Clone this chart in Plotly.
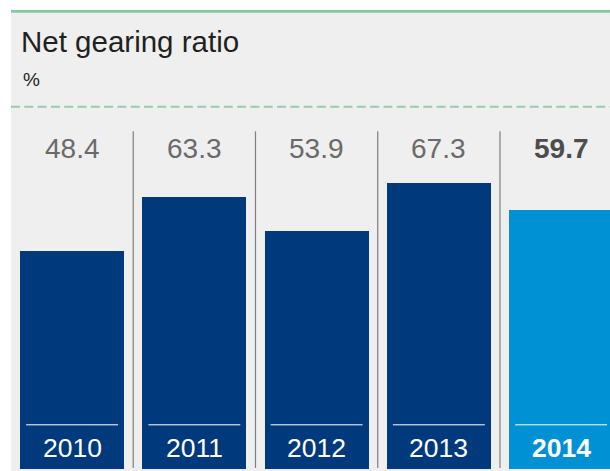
import plotly.graph_objects as go

# Net gearing ratio, %
years = ["2010", "2011", "2012", "2013", "2014"]
ratios = [48.4, 63.3, 53.9, 67.3, 59.7]
highlight = "2014"

DARK_BLUE = "#003a7c"
LIGHT_BLUE = "#0090d4"
PANEL = "#efefef"
GREEN = "#86c9a0"
FONT = "Liberation Sans"

LABEL_BAND = 12.3          # depth of the year label band below zero
Y_RANGE = [-12.28, 114.73]
X_RANGE = [-0.5, 4.4]

xs = list(range(len(years)))
colors = [LIGHT_BLUE if y == highlight else DARK_BLUE for y in years]

fig = go.Figure()

# main bars, from zero up to the ratio
fig.add_trace(go.Bar(
    x=xs, y=ratios, base=0, width=0.85,
    marker=dict(color=colors, line=dict(width=0)),
    hoverinfo="skip", showlegend=False,
))
# year label band under each bar
fig.add_trace(go.Bar(
    x=xs, y=[LABEL_BAND] * len(xs), base=-LABEL_BAND, width=0.85,
    marker=dict(color=colors, line=dict(width=0)),
    hoverinfo="skip", showlegend=False,
))

shapes = []
annotations = []

# bottom strip of the panel below the plot area
shapes.append(dict(type="rect", xref="paper", yref="paper",
                   x0=0, x1=1, y0=-0.01, y1=0, fillcolor=PANEL,
                   line=dict(width=0), layer="below"))
# solid green rule across the top
shapes.append(dict(type="line", xref="paper", yref="paper",
                   x0=0, x1=1, y0=1.0015, y1=1.0015,
                   line=dict(color=GREEN, width=2.7)))
# dashed green rule under the heading
shapes.append(dict(type="line", xref="paper", yref="paper",
                   x0=0, x1=1, y0=0.7928, y1=0.7928,
                   line=dict(color="#93d0aa", width=2, dash="9px,4.3px")))

# vertical separators between the years
for i in range(len(years) - 1):
    shapes.append(dict(type="line", xref="x", yref="y",
                       x0=i + 0.5, x1=i + 0.5, y0=-12.0, y1=81.6,
                       line=dict(color="#7f7f7f", width=1.2)))

# white zero line on each bar, above the year label
for i in xs:
    shapes.append(dict(type="line", xref="x", yref="y",
                       x0=i - 0.376, x1=i + 0.376, y0=0, y1=0,
                       line=dict(color="white", width=1)))

for i, (yr, v) in enumerate(zip(years, ratios)):
    bold = yr == highlight
    annotations.append(dict(
        x=i, y=76.7, xref="x", yref="y", showarrow=False,
        text=f"<b>{v:.1f}</b>" if bold else f"{v:.1f}",
        font=dict(family=FONT, size=28, color="#4d4d4d" if bold else "#6a6a6a"),
        xanchor="center", yanchor="middle",
    ))
    annotations.append(dict(
        x=i, y=-6.5, xref="x", yref="y", showarrow=False,
        text=f"<b>{yr}</b>" if bold else yr,
        font=dict(family=FONT, size=26.5, color="white"),
        xanchor="center", yanchor="middle",
    ))

# heading
annotations.append(dict(
    x=8 / 599, y=(469 - 41.5) / 457, xref="paper", yref="paper",
    showarrow=False, text="Net gearing ratio",
    font=dict(family=FONT, size=29.5, color="#231f20"),
    xanchor="left", yanchor="middle",
))
annotations.append(dict(
    x=10 / 599, y=(469 - 79) / 457, xref="paper", yref="paper",
    showarrow=False, text="%",
    font=dict(family=FONT, size=19, color="#231f20"),
    xanchor="left", yanchor="middle",
))

fig.update_layout(
    width=610, height=471,
    margin=dict(l=11, r=0, t=12, b=2, pad=0),
    paper_bgcolor="white",
    plot_bgcolor=PANEL,
    barmode="overlay",
    bargap=0,
    xaxis=dict(range=X_RANGE, visible=False, fixedrange=True),
    yaxis=dict(range=Y_RANGE, visible=False, fixedrange=True),
    shapes=shapes,
    annotations=annotations,
    showlegend=False,
)

fig.write_html("out.html", config=dict(displayModeBar=False))
